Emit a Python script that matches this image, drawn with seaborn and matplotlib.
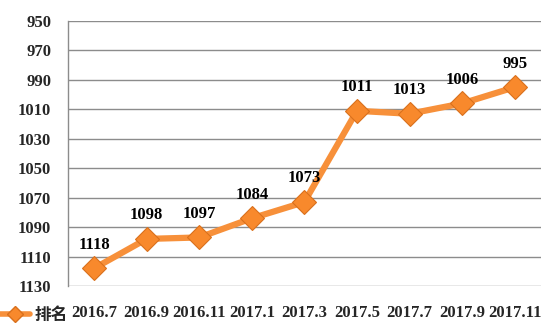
"""
Line chart: ranking by month (inverted axis)
"""
import matplotlib
matplotlib.use('Agg')
import matplotlib.pyplot as plt
import seaborn as sns
import pandas as pd
from matplotlib.lines import Line2D

# Data
months = ['2016.7', '2016.9', '2016.11', '2017.1', '2017.3',
          '2017.5', '2017.7', '2017.9', '2017.11']
ranks = [1118, 1098, 1097, 1084, 1073, 1011, 1013, 1006, 995]
y_ticks = [950, 970, 990, 1010, 1030, 1050, 1070, 1090, 1110, 1130]
series_name = '排名'

df = pd.DataFrame({'month': months, 'rank': ranks})
df['pos'] = range(len(months))

sns.set_style('white')
serif = ['Liberation Serif', 'DejaVu Serif']
cjk = ['Noto Sans CJK SC', 'DejaVu Sans']

orange = '#F7903A'
edge = '#D9701C'

fig = plt.figure(figsize=(5.6, 3.33), dpi=100)
ax = fig.add_axes([0.121, 0.141, 0.845, 0.796])

sns.lineplot(data=df, x='pos', y='rank', ax=ax, color=orange, linewidth=4.5,
             marker='D', markersize=12, markerfacecolor='#F8892C',
             markeredgecolor=edge, markeredgewidth=0.8, zorder=3)

ax.set_xlim(-0.5, len(months) - 0.5)
ax.set_ylim(1130, 950)
ax.set_yticks(y_ticks)
ax.set_yticklabels([str(v) for v in y_ticks], family=serif,
                   fontweight='bold', fontsize=12)
ax.set_xticks(range(len(months)))
ax.set_xticklabels(months, family=serif, fontweight='bold', fontsize=12)
ax.tick_params(axis='both', length=0)
ax.tick_params(axis='y', pad=12)
ax.tick_params(axis='x', pad=14)
ax.set_xlabel('')
ax.set_ylabel('')

ax.grid(axis='y', color='#8c8c8c', linewidth=1)
ax.set_axisbelow(True)
for s in ['top', 'right', 'bottom']:
    ax.spines[s].set_visible(False)
ax.spines['left'].set_color('#8c8c8c')
ax.spines['left'].set_linewidth(1)

# Value labels
for x, y in zip(df['pos'], df['rank']):
    ax.annotate(str(y), (x, y), xytext=(0, 17), textcoords='offset points',
                ha='center', va='center', family=serif, fontweight='bold',
                fontsize=12, color='black')

# Legend
handle = Line2D([0], [0], color=orange, linewidth=4, marker='D',
                markersize=8, markerfacecolor='#F8892C', markeredgecolor=edge)
leg = fig.legend([handle], [series_name], loc='center left',
                 bbox_to_anchor=(0.0, 0.055), frameon=False,
                 borderpad=0, borderaxespad=0,
                 handlelength=1.8, handletextpad=0.3,
                 prop={'family': cjk, 'weight': 'bold', 'size': 12})

plt.savefig('out.png', dpi=100)
